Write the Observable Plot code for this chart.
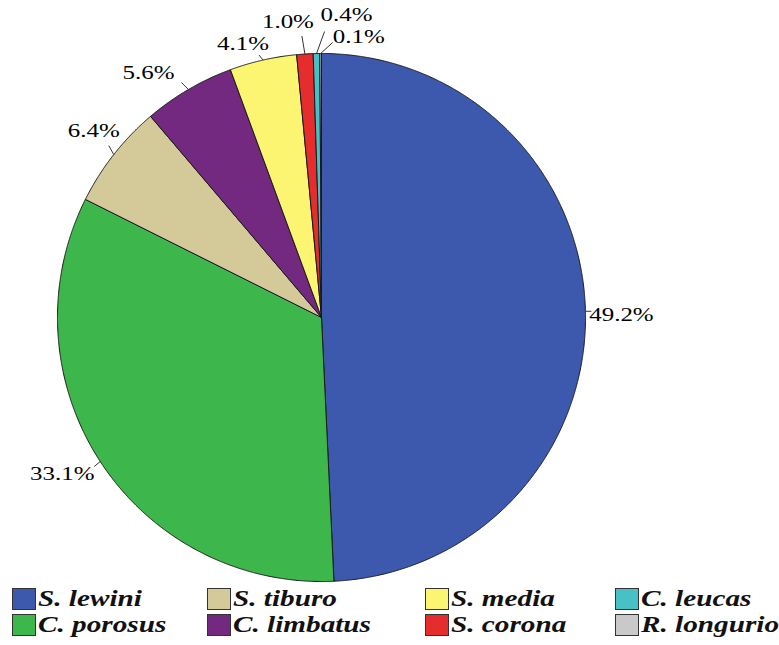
<!DOCTYPE html>
<html><head><meta charset="utf-8">
<script src="https://cdn.jsdelivr.net/npm/d3@7"></script>
<script src="https://cdn.jsdelivr.net/npm/@observablehq/plot@0.6"></script>
<style>
body{margin:0;background:#fff;}
#legend{display:grid;grid-template-rows:26px 26px;grid-auto-flow:column;grid-template-columns:195px 218px 190px 150px;padding-left:12px;margin-top:1px;}
.item{display:flex;align-items:center;font-family:"Liberation Serif",serif;font-weight:bold;font-style:italic;font-size:23px;color:#111;white-space:nowrap;}
.sw{width:24px;height:22px;border:1px solid #333;box-sizing:border-box;margin-right:2px;flex:none;}
.tx{display:inline-block;transform:scaleX(1.27);transform-origin:left center;}
</style></head><body>
<div id="chart"></div>
<div id="legend"></div>
<script>
const species = ["S. lewini","C. porosus","S. tiburo","C. limbatus","S. media","S. corona","C. leucas","R. longurio"];
const percents = [49.2, 33.1, 6.4, 5.6, 4.1, 1.0, 0.4, 0.1];
const colors = ["#3d59ae","#3db64b","#d4c999","#72297f","#fcf571","#e52d2e","#48c1c6","#c9c9c9"];
const labels = ["49.2%","33.1%","6.4%","5.6%","4.1%","1.0%","0.4%","0.1%"];

// layout (pixel offsets): leader end from pie edge, text centre from leader end
const layout = {
  "S. lewini":   {ex: 6,  ey: 0,   tx: 30,  ty: 4},
  "C. porosus":  {ex: -6, ey: 5,   tx: -32, ty: 8},
  "S. tiburo":   {ex: -5, ey: -9,  tx: -15, ty: -15},
  "C. limbatus": {ex: -7, ey: -7,  tx: -33, ty: -9},
  "S. media":    {ex: -4, ey: -5,  tx: -16, ty: -11},
  "S. corona":   {ex: -3, ey: -18, tx: -14, ty: -14},
  "C. leucas":   {ex: 8,  ey: -22, tx: 22,  ty: -16},
  "R. longurio": {ex: 12, ey: -11, tx: 26,  ty: -5}
};

const W = 779, H = 585, CX = 321, CY = 317, R = 264;

const rows = species.map((s, i) => ({name: s, value: percents[i], label: labels[i]}));
const arcs = d3.pie().sort(null).value(d => d.value).startAngle(0).endAngle(2 * Math.PI)(rows);

const polys = [];
const leaders = [];
const texts = [];
for (const a of arcs) {
  const n = Math.max(2, Math.ceil((a.endAngle - a.startAngle) / 0.004));
  polys.push({name: a.data.name, x: 0, y: 0});
  for (let k = 0; k <= n; k++) {
    const t = a.startAngle + (a.endAngle - a.startAngle) * k / n;
    polys.push({name: a.data.name, x: Math.sin(t), y: Math.cos(t)});
  }
  polys.push({name: a.data.name, x: 0, y: 0});
  const m = (a.startAngle + a.endAngle) / 2;
  const L = layout[a.data.name];
  const x1 = Math.sin(m), y1 = Math.cos(m);
  const x2 = x1 + L.ex / R, y2 = y1 - L.ey / R;
  leaders.push({x1, y1, x2, y2});
  texts.push({x: x2 + L.tx / R, y: y2 - L.ty / R, label: a.data.label});
}

const plot = Plot.plot({
  width: W, height: H,
  marginTop: 0, marginBottom: 0, marginLeft: 0, marginRight: 0,
  x: {domain: [-CX / R, (W - CX) / R], range: [0, W], axis: null},
  y: {domain: [-(H - CY) / R, CY / R], range: [H, 0], axis: null},
  color: {domain: species, range: colors},
  style: {background: "white", overflow: "visible"},
  marks: [
    Plot.line(polys, {x: "x", y: "y", z: "name", fill: "name", stroke: "#1a1a1a", strokeWidth: 1, strokeLinejoin: "round"}),
    Plot.link(leaders, {x1: "x1", y1: "y1", x2: "x2", y2: "y2", stroke: "#333", strokeWidth: 1}),
    Plot.text(texts, {x: "x", y: "y", text: "label", fontFamily: "Liberation Serif", fontSize: 18.5, fill: "#000", textAnchor: "middle", lineAnchor: "middle"})
  ]
});
// widen the label glyphs like the reference's font
plot.querySelectorAll("text").forEach(t => {
  const tr = t.getAttribute("transform");
  if (tr) {
    t.setAttribute("transform", tr + " scale(1.35,1)");
  } else {
    const x = +t.getAttribute("x") || 0, y = +t.getAttribute("y") || 0;
    t.removeAttribute("x"); t.removeAttribute("y");
    t.setAttribute("transform", `translate(${x},${y}) scale(1.35,1)`);
  }
});
document.getElementById("chart").appendChild(plot);

const leg = document.getElementById("legend");
species.forEach((s, i) => {
  const it = document.createElement("div");
  it.className = "item";
  const sw = document.createElement("span");
  sw.className = "sw";
  sw.style.background = colors[i];
  it.appendChild(sw);
  const t = document.createElement("span");
  t.className = "tx";
  t.textContent = s;
  it.appendChild(t);
  leg.appendChild(it);
});
</script>
</body></html>
